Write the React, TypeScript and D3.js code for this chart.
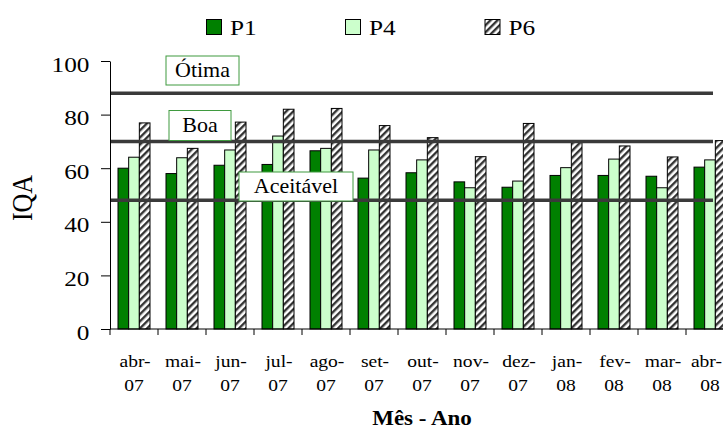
import { useEffect, useRef } from "react";
import { select, scaleBand, scaleLinear, axisLeft } from "d3";

// data
const categories = [
  "abr-07", "mai-07", "jun-07", "jul-07", "ago-07", "set-07", "out-07",
  "nov-07", "dez-07", "jan-08", "fev-08", "mar-08", "abr-08",
];
const seriesNames = ["P1", "P4", "P6"];
const p1 = [60.0, 58.0, 61.1, 61.4, 66.5, 56.3, 58.3, 54.9, 52.9, 57.3, 57.3, 57.0, 60.4];
const p4 = [64.1, 63.9, 66.8, 72.0, 67.4, 66.8, 63.1, 52.7, 55.2, 60.2, 63.4, 52.7, 63.1];
const p6 = [76.9, 67.4, 77.2, 82.0, 82.3, 75.9, 71.4, 64.3, 76.7, 69.7, 68.3, 64.2, 70.3];
const yTicks = [0, 20, 40, 60, 80, 100];
const levelNames = ["Ótima", "Boa", "Aceitável"];
const levelValues = [88, 70, 48];

const W = 723;
const H = 430;
const FONT = "'Liberation Serif', 'Times New Roman', serif";
const ST = 1.15; // text in the picture is a bit wider than normal

// hand placed text boxes of the reference levels
const boxes = [
  { x: 166, y: 56, w: 73, h: 29 },
  { x: 169, y: 110.5, w: 62, h: 30 },
  { x: 239, y: 172, w: 114, h: 29 },
];

const drawChart = (ref: SVGSVGElement) => {
  const svg = select(ref);
  svg.selectAll("*").remove();

  const x = scaleBand().domain(categories).range([110, 734]);
  const sub = scaleBand()
    .domain(seriesNames)
    .range([0, x.bandwidth()])
    .paddingOuter(0.75);
  const y = scaleLinear().domain([0, 100]).range([329, 61]);

  const defs = svg.append("defs");
  const pat = defs
    .append("pattern")
    .attr("id", "hatch")
    .attr("patternUnits", "userSpaceOnUse")
    .attr("width", 5)
    .attr("height", 5)
    .attr("patternTransform", "rotate(45)");
  pat.append("rect").attr("width", 5).attr("height", 5).attr("fill", "white");
  pat.append("rect").attr("width", 2.4).attr("height", 5).attr("fill", "#333");

  const fills = ["#008000", "#CCFFCC", "url(#hatch)"];
  const values = [p1, p4, p6];

  // bars
  seriesNames.forEach((s, si) => {
    svg
      .append("g")
      .selectAll("rect")
      .data(values[si])
      .join("rect")
      .attr("x", (d, i) => x(categories[i])! + sub(s)!)
      .attr("y", (d) => y(d))
      .attr("width", sub.bandwidth())
      .attr("height", (d) => y(0) - y(d))
      .attr("fill", fills[si])
      .attr("stroke", "black")
      .attr("stroke-width", 1);
  });

  // level lines
  svg
    .append("g")
    .selectAll("line")
    .data(levelValues)
    .join("line")
    .attr("x1", 110)
    .attr("x2", 713)
    .attr("y1", (d) => y(d))
    .attr("y2", (d) => y(d))
    .attr("stroke", "#3a3a3a")
    .attr("stroke-width", 3.5);

  // y axis
  const ya = svg
    .append("g")
    .attr("transform", "translate(110,0)")
    .call(axisLeft(y).tickValues(yTicks).tickSize(9).tickSizeOuter(0));
  ya.select(".domain").attr("stroke", "black");
  ya.selectAll(".tick line").attr("stroke", "black");
  ya.selectAll(".tick text")
    .attr("x", null)
    .attr("dy", null)
    .attr("text-anchor", "end")
    .attr("transform", `translate(-20.5,10) scale(${ST},1)`)
    .attr("font-family", FONT)
    .attr("font-size", 22)
    .attr("fill", "black");

  // x axis
  svg
    .append("line")
    .attr("x1", 110)
    .attr("x2", W)
    .attr("y1", y(0))
    .attr("y2", y(0))
    .attr("stroke", "black");
  svg
    .append("g")
    .selectAll("line")
    .data(categories)
    .join("line")
    .attr("x1", (d) => x(d)!)
    .attr("x2", (d) => x(d)!)
    .attr("y1", y(0))
    .attr("y2", y(0) + 6)
    .attr("stroke", "black");

  const xl = svg
    .append("g")
    .attr("font-family", FONT)
    .attr("font-size", 17)
    .attr("text-anchor", "middle");
  const rows: [string, number, number, (d: string) => string][] = [
    ["m", 366.5, 1, (d) => d.split("-")[0] + "-"],
    ["a", 390.5, 0, (d) => d.split("-")[1]],
  ];
  rows.forEach(([cls, by, dx, fmt]) => {
    xl.selectAll(`text.${cls}`)
      .data(categories)
      .join("text")
      .attr("class", cls)
      .text(fmt)
      .attr("transform", function (d) {
        let cx = x(d)! + x.bandwidth() / 2 + dx;
        // keep the last label inside the picture
        const half = ((this as SVGTextElement).getComputedTextLength() * ST) / 2;
        if (cx + half > W - 1) cx = W - 1 - half;
        return `translate(${cx},${by}) scale(${ST},1)`;
      });
  });

  // axis titles
  svg
    .append("text")
    .attr("transform", `translate(${(x.range()[0] + x.range()[1]) / 2},425) scale(${ST},1)`)
    .attr("text-anchor", "middle")
    .attr("font-family", FONT)
    .attr("font-weight", "bold")
    .attr("font-size", 20)
    .text("Mês - Ano");
  svg
    .append("text")
    .attr("transform", `translate(32,${(y(0) + y(100)) / 2 + 3}) scale(${ST},1) rotate(-90)`)
    .attr("text-anchor", "middle")
    .attr("font-family", FONT)
    .attr("font-size", 26)
    .text("IQA");

  // level boxes
  const bx = svg.append("g").selectAll("g").data(levelNames).join("g");
  bx.append("rect")
    .attr("x", (d, i) => boxes[i].x)
    .attr("y", (d, i) => boxes[i].y)
    .attr("width", (d, i) => boxes[i].w)
    .attr("height", (d, i) => boxes[i].h)
    .attr("fill", "white")
    .attr("stroke", "#3f9a3f")
    .attr("stroke-width", 1);
  bx.append("text")
    .attr("x", (d, i) => boxes[i].x + boxes[i].w / 2)
    .attr("y", (d, i) => boxes[i].y + boxes[i].h / 2 + 6.5)
    .attr("text-anchor", "middle")
    .attr("font-family", FONT)
    .attr("font-size", 22)
    .text((d) => d);

  // legend
  const legX = [206.5, 345.5, 485];
  const lg = svg.append("g").selectAll("g").data(seriesNames).join("g");
  lg.append("rect")
    .attr("x", (d, i) => legX[i])
    .attr("y", 19.5)
    .attr("width", 15)
    .attr("height", 15)
    .attr("fill", (d, i) => fills[i])
    .attr("stroke", "black");
  lg.append("text")
    .attr("transform", (d, i) => `translate(${legX[i] + 23.5},35) scale(${ST},1)`)
    .attr("font-family", FONT)
    .attr("font-size", 22)
    .text((d) => d);
};

export default function App() {
  const ref = useRef<SVGSVGElement>(null);

  useEffect(() => {
    if (ref.current) drawChart(ref.current);
  }, []);

  return (
    <svg
      ref={ref}
      width={W}
      height={H}
      style={{ position: "absolute", left: 0, top: 0, background: "white" }}
    />
  );
}
